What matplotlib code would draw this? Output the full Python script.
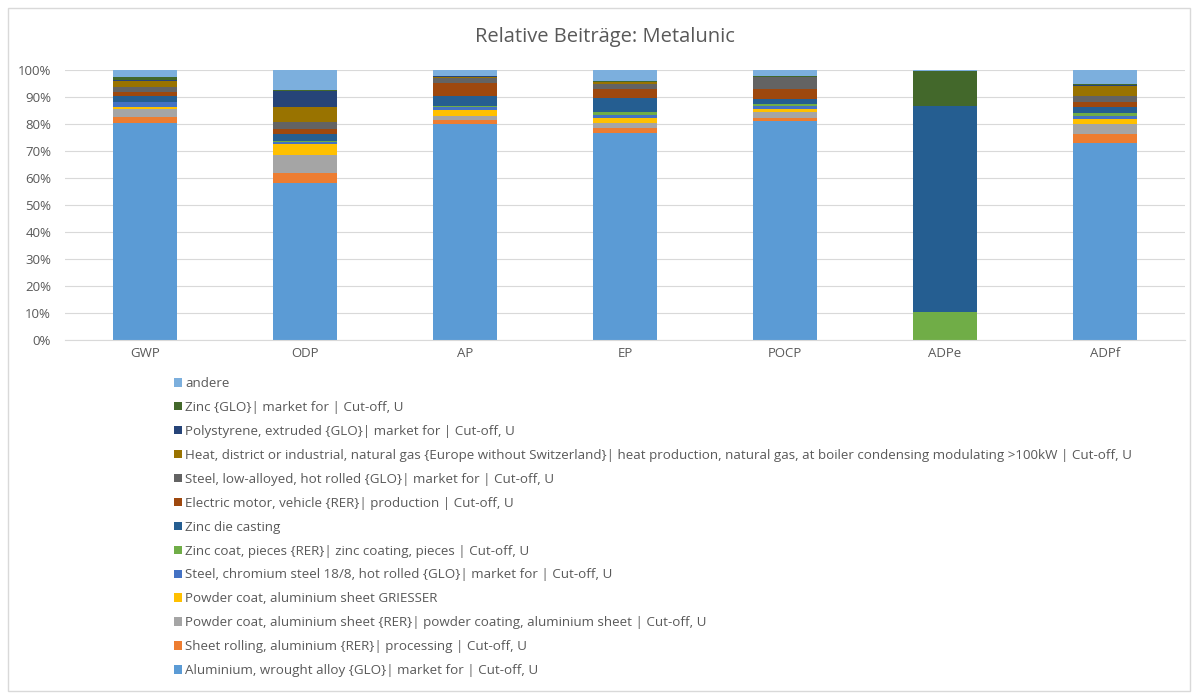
import matplotlib.pyplot as plt
import matplotlib.patches as mpatches
import numpy as np

plt.rcParams['font.family'] = ['Open Sans', 'DejaVu Sans']

categories = ['GWP', 'ODP', 'AP', 'EP', 'POCP', 'ADPe', 'ADPf']

# shares in % per category (bottom to top)
aluminium = [80.2, 58.3, 80.0, 76.5, 81.0, 0.0, 72.8]
sheet_rolling = [2.5, 3.6, 1.5, 1.9, 1.3, 0.0, 3.5]
powder_rer = [2.7, 6.8, 1.6, 1.8, 2.1, 0.0, 3.7]
powder_griesser = [1.0, 4.0, 2.1, 1.9, 1.2, 0.0, 1.7]
steel_chromium = [1.9, 0.6, 1.0, 1.2, 1.0, 0.0, 1.3]
zinc_coat = [0.0, 0.5, 0.6, 1.3, 0.9, 10.3, 1.0]
zinc_die = [2.1, 2.4, 3.7, 4.9, 1.8, 76.5, 2.2]
electric_motor = [1.6, 1.9, 4.6, 3.3, 3.7, 0.0, 2.1]
steel_low = [1.8, 2.5, 2.1, 2.0, 4.3, 0.0, 2.1]
heat = [2.2, 5.8, 0.3, 0.7, 0.2, 0.0, 3.7]
polystyrene = [0.3, 5.9, 0.1, 0.0, 0.0, 0.0, 0.4]
zinc = [1.0, 0.3, 0.2, 0.5, 0.3, 13.0, 0.3]
andere = [2.7, 7.4, 2.2, 4.0, 2.2, 0.2, 5.2]

series = [
    ('Aluminium, wrought alloy {GLO}| market for | Cut-off, U', aluminium, '#5B9BD5'),
    ('Sheet rolling, aluminium {RER}| processing | Cut-off, U', sheet_rolling, '#ED7D31'),
    ('Powder coat, aluminium sheet {RER}| powder coating, aluminium sheet | Cut-off, U', powder_rer, '#A5A5A5'),
    ('Powder coat, aluminium sheet GRIESSER', powder_griesser, '#FFC000'),
    ('Steel, chromium steel 18/8, hot rolled {GLO}| market for | Cut-off, U', steel_chromium, '#4472C4'),
    ('Zinc coat, pieces {RER}| zinc coating, pieces | Cut-off, U', zinc_coat, '#70AD47'),
    ('Zinc die casting', zinc_die, '#255E91'),
    ('Electric motor, vehicle {RER}| production | Cut-off, U', electric_motor, '#9E480E'),
    ('Steel, low-alloyed, hot rolled {GLO}| market for | Cut-off, U', steel_low, '#636363'),
    ('Heat, district or industrial, natural gas {Europe without Switzerland}| heat production, '
     'natural gas, at boiler condensing modulating >100kW | Cut-off, U', heat, '#997300'),
    ('Polystyrene, extruded {GLO}| market for | Cut-off, U', polystyrene, '#264478'),
    ('Zinc {GLO}| market for | Cut-off, U', zinc, '#43682B'),
    ('andere', andere, '#7CAFDD'),
]

fig = plt.figure(figsize=(12, 6.93), dpi=100)
ax = fig.add_axes([65 / 1200, 1 - 340 / 693, 1120 / 1200, 270 / 693])

x = np.arange(len(categories))
bottom = np.zeros(len(categories))
handles = []
for label, vals, color in series:
    vals = np.array(vals) / 100
    b = ax.bar(x, vals, 0.4, bottom=bottom, color=color, label=label, zorder=2)
    handles.append(b)
    bottom += vals

ax.set_xlim(-0.5, len(categories) - 0.5)
ax.set_ylim(0, 1)
ax.set_yticks(np.arange(0, 1.01, 0.1))
ax.set_yticklabels([f'{int(round(v * 100))}%' for v in np.arange(0, 1.01, 0.1)])
ax.set_xticks(x)
ax.set_xticklabels(categories)
ax.tick_params(axis='both', length=0, labelsize=9.5, colors='#595959')
ax.tick_params(axis='y', pad=10)
ax.tick_params(axis='x', pad=5)
ax.grid(axis='y', color='#D9D9D9', linewidth=0.8, zorder=0)
for s in ['top', 'right', 'left']:
    ax.spines[s].set_visible(False)
ax.spines['bottom'].set_color('#D9D9D9')

fig.text(605 / 1200, 1 - 37 / 693, 'Relative Beiträge: Metalunic', ha='center', va='center',
         fontsize=14.5, color='#595959')

leg = fig.legend(handles[::-1], [s[0] for s in series][::-1], loc='upper left',
                 bbox_to_anchor=(174 / 1200, 1 - 377 / 693), frameon=False, fontsize=9.6,
                 handlelength=0.6, handleheight=0.6, handletextpad=0.25, labelspacing=0.82,
                 borderaxespad=0, borderpad=0)
for t in leg.get_texts():
    t.set_color('#595959')

fig.patches.append(mpatches.Rectangle((8 / 1200, 2 / 693), 1182 / 1200, 683 / 693,
                                      transform=fig.transFigure, fill=False,
                                      edgecolor='#D9D9D9', linewidth=1))

fig.savefig('out.png', dpi=100)
